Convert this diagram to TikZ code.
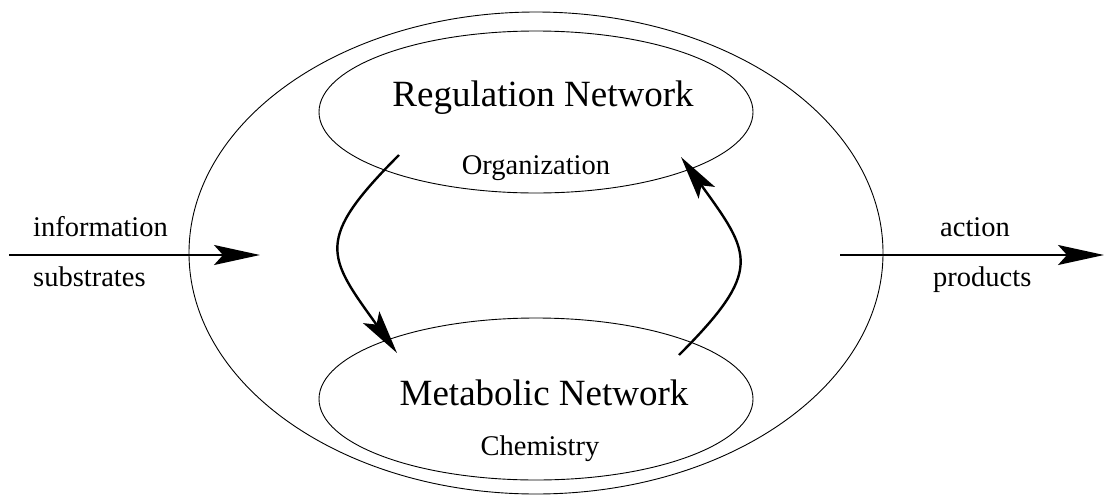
\documentclass[tikz,border=0pt]{standalone}
\usepackage{fontspec}
\setmainfont{Liberation Serif}
\usetikzlibrary{arrows.meta,shapes.geometric}
\begin{document}
\begin{tikzpicture}[x=1pt,y=-1pt,
  netshape/.style={draw, ellipse, line width=0.9pt, inner sep=0pt},
  bigtext/.style={font=\fontsize{37}{44}\selectfont, anchor=base, inner sep=0pt},
  smalltext/.style={font=\fontsize{28.5}{34}\selectfont, inner sep=0pt},
  sidearrow/.style={line width=2pt, -{Stealth[length=46pt,width=20pt,inset=9pt]}},
  feedarrow/.style={line width=2.4pt, -{Stealth[length=44pt,width=20pt,inset=9pt]}}]
\useasboundingbox (0,0) rectangle (1106,496);

% cell boundary and the two networks
\node[netshape, minimum width=694pt, minimum height=482pt] (cell) at (536,253) {};
\node[netshape, minimum width=434pt, minimum height=162pt] (reg) at (536,112) {};
\node[netshape, minimum width=434pt, minimum height=162pt] (met) at (536,399) {};

% titles
\node[bigtext] (regt) at (543,106) {Regulation Network};
\node[smalltext, anchor=base] (orgt) at (536,174) {Organization};
\node[bigtext] (mett) at (544,405) {Metabolic Network};
\node[smalltext, anchor=base] (chemt) at (540,455) {Chemistry};

% input side
\coordinate (inA) at (9,255);
\coordinate (inB) at (260,255);
\draw[sidearrow] (inA) -- (inB);
\node[smalltext, anchor=base west] (info) at (33,236) {information};
\node[smalltext, anchor=base west] (subs) at (33,286) {substrates};

% output side
\coordinate (outA) at (840,255);
\coordinate (outB) at (1104,255);
\draw[sidearrow] (outA) -- (outB);
\node[smalltext, anchor=base west] (act) at (940,236) {action};
\node[smalltext, anchor=base west] (prod) at (933,286) {products};

% feedback loop between the networks
\coordinate (r1) at (399,155);
\coordinate (m1) at (397,353);
\coordinate (m2) at (679,355);
\coordinate (r2) at (681,157);
\draw[feedarrow] (r1) .. controls (314,240) and (327,256) .. (m1);
\draw[feedarrow] (m2) .. controls (764,270) and (751,254) .. (r2);
\end{tikzpicture}
\end{document}
